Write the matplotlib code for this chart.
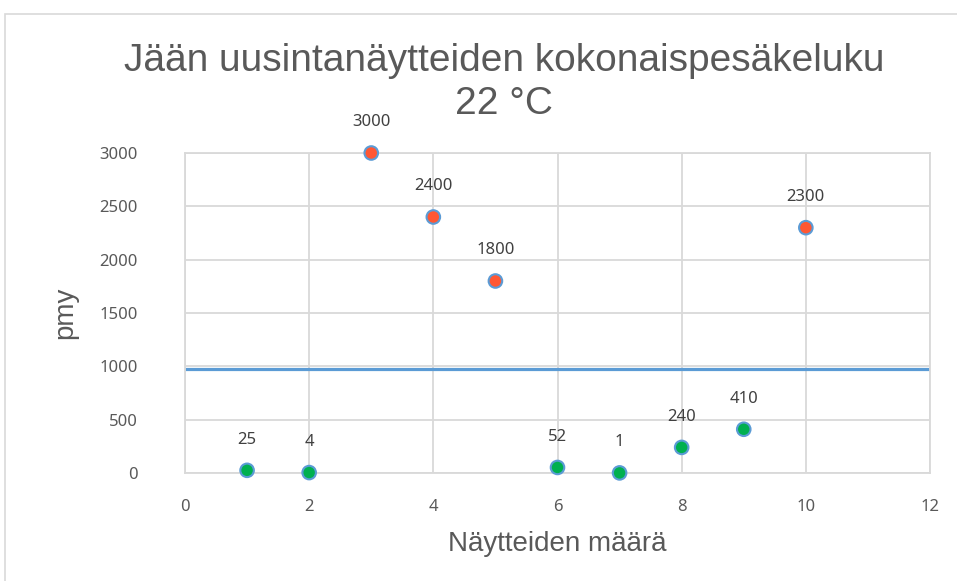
import matplotlib
matplotlib.use("Agg")
import matplotlib.pyplot as plt
from matplotlib.patches import Rectangle

x_values = [1, 2, 3, 4, 5, 6, 7, 8, 9, 10]
counts = [25, 4, 3000, 2400, 1800, 52, 1, 240, 410, 2300]
limit_x = [0, 12]
limit_y = [975, 975]
threshold = 1000
x_ticks = [0, 2, 4, 6, 8, 10, 12]
y_ticks = [0, 500, 1000, 1500, 2000, 2500, 3000]

W, H = 957, 581
fig = plt.figure(figsize=(W / 100, H / 100), dpi=100)
fig.patch.set_facecolor("white")

# outer chart border
fig.patches.append(Rectangle((5 / W, -0.05), 1.2, 1 - 14 / H + 0.05,
                             transform=fig.transFigure, fill=False,
                             edgecolor="#d9d9d9", linewidth=1.2))

ax = fig.add_axes([185 / W, 1 - 473 / H, (930 - 185) / W, (473 - 153) / H])
ax.set_xlim(0, 12)
ax.set_ylim(0, 3000)
ax.set_xticks(x_ticks)
ax.set_yticks(y_ticks)
ax.grid(True, color="#d9d9d9", linewidth=1.3, zorder=0)
for s in ax.spines.values():
    s.set_color("#d9d9d9")
    s.set_linewidth(1.3)
ax.tick_params(length=0, labelsize=12, labelcolor="#595959")
for lab in ax.get_xticklabels() + ax.get_yticklabels():
    lab.set_family("Noto Sans")
ax.tick_params(axis="y", pad=34)
ax.tick_params(axis="x", pad=19)

ax.plot(limit_x, limit_y, color="#5b9bd5", linewidth=2.3, zorder=2, solid_capstyle="butt")

colors = ["#ff5733" if c > threshold else "#00b050" for c in counts]
ax.scatter(x_values, counts, s=95, c=colors, edgecolors="#5b9bd5", linewidths=1.5,
           zorder=3, clip_on=False)
for xv, c in zip(x_values, counts):
    ax.annotate(str(c), (xv, c), xytext=(0, 22), textcoords="offset points",
                ha="center", va="center", fontsize=12, color="#404040",
                family="Noto Sans")

fig.text(504 / W, 1 - 61 / H, "Jään uusintanäytteiden kokonaispesäkeluku",
         ha="center", va="center", fontsize=28, color="#595959", family="Liberation Sans")
fig.text(504 / W, 1 - 104 / H, "22 °C",
         ha="center", va="center", fontsize=28, color="#595959", family="Liberation Sans")
fig.text(65 / W, 1 - 313 / H, "pmy", rotation=90, ha="center", va="center",
         fontsize=20, color="#595959", family="Liberation Sans")
fig.text(557 / W, 1 - 544 / H, "Näytteiden määrä", ha="center", va="center",
         fontsize=20, color="#595959", family="Liberation Sans")

fig.savefig("out.png", dpi=100)
